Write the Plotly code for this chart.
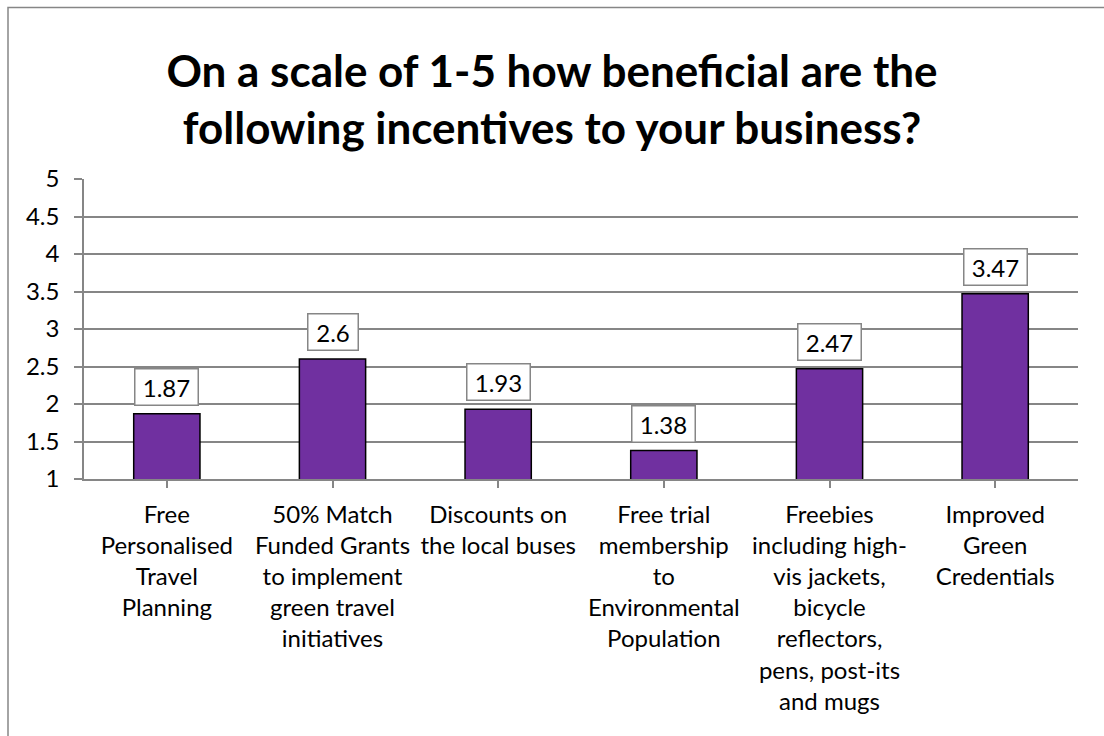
import plotly.graph_objects as go

# Survey results: mean benefit rating (1-5) per incentive
categories = [
    "Free<br>Personalised<br>Travel<br>Planning",
    "50% Match<br>Funded Grants<br>to implement<br>green travel<br>initiatives",
    "Discounts on<br>the local buses",
    "Free trial<br>membership<br>to<br>Environmental<br>Population",
    "Freebies<br>including high-<br>vis jackets,<br>bicycle<br>reflectors,<br>pens, post-its<br>and mugs",
    "Improved<br>Green<br>Credentials",
]
ratings = [1.87, 2.6, 1.93, 1.38, 2.47, 3.47]
rating_labels = ["1.87", "2.6", "1.93", "1.38", "2.47", "3.47"]
y_ticks = [1, 1.5, 2, 2.5, 3, 3.5, 4, 4.5, 5]
y_tick_text = ["1", "1.5", "2", "2.5", "3", "3.5", "4", "4.5", "5"]

FONT = "Lato"
GRAY = "#868686"
TXT = 24

fig = go.Figure(
    go.Bar(
        x=list(range(len(categories))),
        y=ratings,
        width=0.4,
        marker=dict(color="#7030A0", line=dict(color="#000000", width=1.5)),
        hoverinfo="skip",
    )
)

# value boxes above each bar
for i, (v, t) in enumerate(zip(ratings, rating_labels)):
    fig.add_annotation(
        x=i, y=v, xref="x", yref="y",
        text=t, showarrow=False,
        yanchor="bottom", yshift=8,
        font=dict(family=FONT, size=TXT, color="#000000"),
        bgcolor="#ffffff", bordercolor=GRAY, borderwidth=1.5, borderpad=3,
        width=13 * len(t) + 4,
    )

# outer chart frame
fig.add_shape(
    type="rect", xref="paper", yref="paper",
    x0=(8 - 84) / 994, x1=(1112 - 84) / 994,
    y0=(479 - 745) / 300, y1=(479 - 7.5) / 300,
    line=dict(color=GRAY, width=1.5), fillcolor="rgba(0,0,0,0)", layer="below",
)

fig.update_layout(
    width=1104, height=736,
    margin=dict(l=84, r=26, t=179, b=257),
    paper_bgcolor="#ffffff", plot_bgcolor="#ffffff",
    showlegend=False,
    font=dict(family=FONT, size=TXT, color="#000000"),
    title=dict(
        text="On a scale of 1-5 how beneficial are the<br>following incentives to your business?",
        x=0.5, xanchor="center", xref="container",
        y=1 - 87 / 736, yanchor="middle",
        font=dict(family=FONT, size=44, color="#000000", weight="bold"),
    ),
    xaxis=dict(
        tickmode="array",
        tickvals=list(range(len(categories))),
        ticktext=categories,
        range=[-0.5, len(categories) - 0.5],
        showline=True, linecolor=GRAY, linewidth=1.5,
        ticks="outside", ticklen=7, tickcolor=GRAY, tickwidth=1.5,
        tickson="boundaries",
        showgrid=False, zeroline=False,
        tickfont=dict(family=FONT, size=TXT, color="#000000"),
        tickangle=0,
        ticklabelstandoff=6,
    ),
    yaxis=dict(
        range=[1, 5],
        tickmode="array", tickvals=y_ticks, ticktext=y_tick_text,
        showline=True, linecolor=GRAY, linewidth=1.5,
        ticks="outside", ticklen=8, tickcolor=GRAY, tickwidth=1.5,
        showgrid=True, gridcolor=GRAY, gridwidth=1.5,
        zeroline=False,
        tickfont=dict(family=FONT, size=TXT, color="#000000"),
        ticklabelstandoff=10,
    ),
)

fig.write_html("out.html")
